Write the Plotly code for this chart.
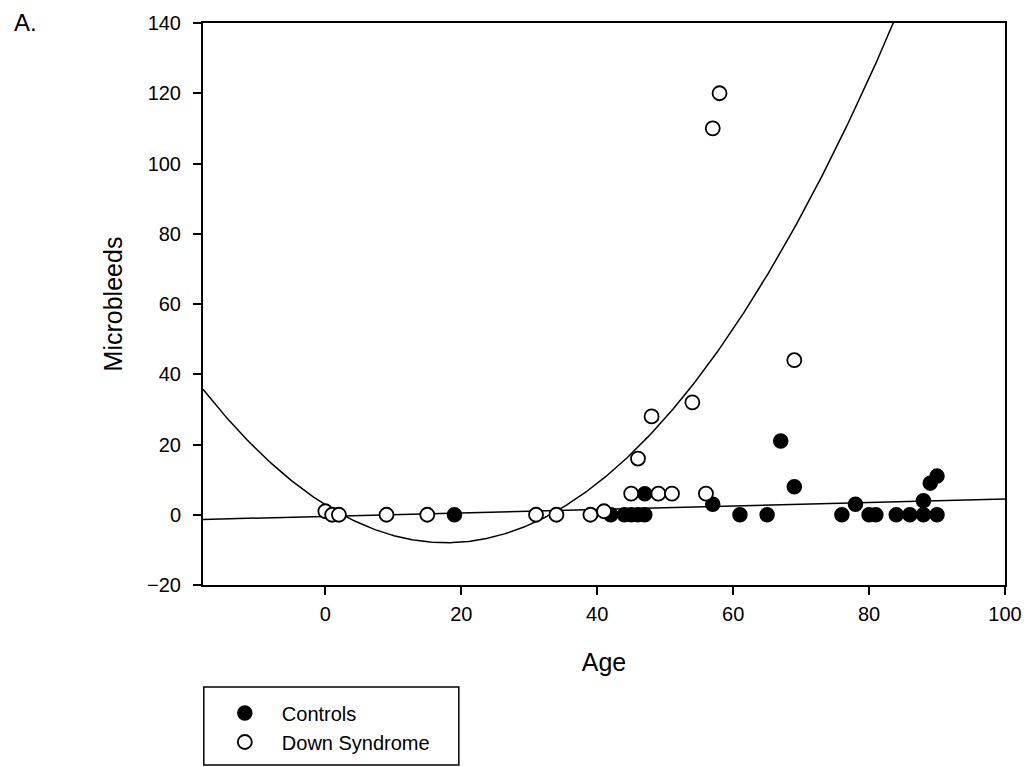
import numpy as np
import plotly.graph_objects as go

# Data
ctrl_age = [19, 42, 44, 45, 46, 47, 47, 57, 61, 65, 67, 69, 76, 78, 80, 81, 84, 86, 88, 88, 89, 90, 90]
ctrl_mb  = [0, 0, 0, 0, 0, 0, 6, 3, 0, 0, 21, 8, 0, 3, 0, 0, 0, 0, 0, 4, 9, 11, 0]

ds_age = [0, 1, 2, 9, 15, 31, 34, 39, 41, 45, 46, 48, 49, 51, 54, 56, 57, 58, 69]
ds_mb  = [1, 0, 0, 0, 0, 0, 0, 0, 1, 6, 16, 28, 6, 6, 32, 6, 110, 120, 44]

x_ticks = [0, 20, 40, 60, 80, 100]
y_ticks = [-20, 0, 20, 40, 60, 80, 100, 120, 140]

x_range = [-18, 100]
y_range = [-20, 140]

# Regression fits computed from the data
lin = np.polyfit(ctrl_age, ctrl_mb, 1)
quad = np.polyfit(ds_age, ds_mb, 2)
xs = np.linspace(x_range[0], x_range[1], 400)

FONT = "Liberation Sans, Arial, sans-serif"

fig = go.Figure()
fig.add_trace(go.Scatter(x=xs, y=np.polyval(lin, xs), mode="lines",
                         line=dict(color="black", width=1.5), showlegend=False, hoverinfo="skip"))
fig.add_trace(go.Scatter(x=xs, y=np.polyval(quad, xs), mode="lines",
                         line=dict(color="black", width=1.5), showlegend=False, hoverinfo="skip"))
fig.add_trace(go.Scatter(x=ctrl_age, y=ctrl_mb, mode="markers", name="Controls",
                         marker=dict(color="black", size=14, line=dict(color="black", width=1.5)),
                         cliponaxis=False))
fig.add_trace(go.Scatter(x=ds_age, y=ds_mb, mode="markers", name="Down Syndrome",
                         marker=dict(color="white", size=14, line=dict(color="black", width=1.8)),
                         cliponaxis=False))

fig.update_layout(
    width=1025, height=800,
    margin=dict(l=195, r=28, t=15, b=0, autoexpand=False),
    paper_bgcolor="white", plot_bgcolor="white",
    font=dict(family=FONT, size=20, color="black"),
    xaxis=dict(range=x_range, tickvals=x_ticks, showgrid=False, zeroline=False,
               automargin=False,
               showline=True, linecolor="black", linewidth=2, mirror=True,
               ticks="outside", ticklen=8, tickwidth=2, tickcolor="black",
               ticklabelstandoff=2,
               title=dict(text="Age", font=dict(size=25), standoff=30)),
    yaxis=dict(range=y_range, tickvals=y_ticks, showgrid=False, zeroline=False,
               automargin=False,
               domain=[0.28408, 1],
               showline=True, linecolor="black", linewidth=2, mirror=True,
               ticks="outside", ticklen=8, tickwidth=2, tickcolor="black",
               ticklabelstandoff=8,
               title=dict(text="Microbleeds", font=dict(size=25), standoff=17)),
    legend=dict(x=0.006, y=0.14586, xanchor="left", yanchor="top",
                bgcolor="rgba(0,0,0,0)", font=dict(size=20), itemwidth=64,
                tracegroupgap=0),
    shapes=[dict(type="rect", xref="paper", yref="paper",
                 x0=0.001, x1=0.319, y0=0.05478, y1=0.15414,
                 line=dict(color="black", width=1.5))],
    annotations=[dict(text="A.", xref="paper", yref="paper", x=-0.238, y=1.00127,
                      xanchor="left", yanchor="middle", showarrow=False,
                      font=dict(size=24))],
)

fig.write_html("out.html")
